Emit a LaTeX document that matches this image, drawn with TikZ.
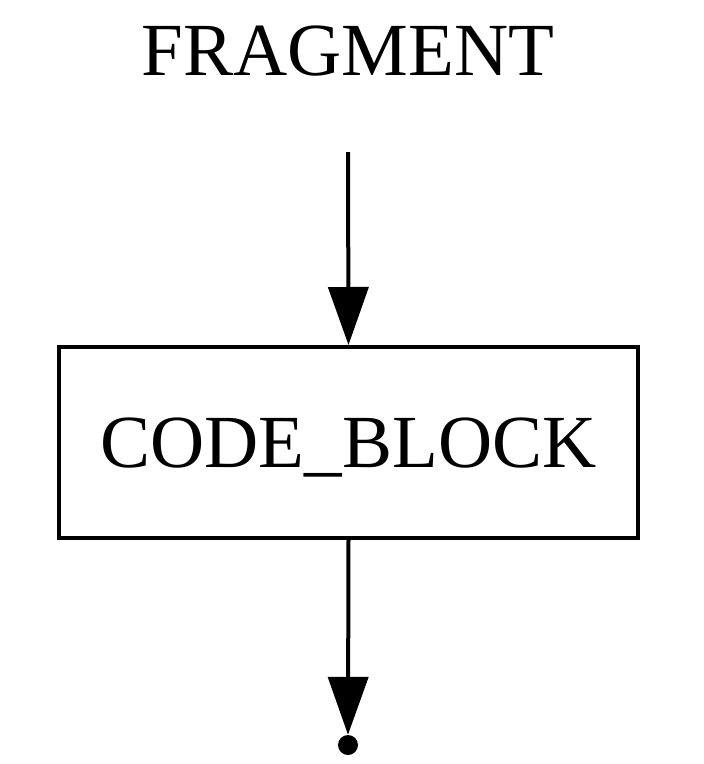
\documentclass[tikz,border=0pt]{standalone}
\usepackage{fontspec}
\setmainfont{Liberation Serif}
\usetikzlibrary{arrows.meta}
\begin{document}
\begin{tikzpicture}[x=1pt,y=-1pt,
  edge/.style={line width=4pt,-{Triangle[length=58pt,width=40pt]}},
  box/.style={draw,line width=4pt,minimum width=579pt,minimum height=191pt,inner sep=0pt,text depth=0pt,font=\fontsize{75}{90}\selectfont},
  lbl/.style={font=\fontsize{75}{90}\selectfont,inner sep=0pt}]
\useasboundingbox (0,0) rectangle (704,764);
\node[lbl] (title) at (348,51) {FRAGMENT};
\coordinate (start) at (348,152);
\node[box] (code) at (348.5,442.5) {CODE\_BLOCK};
\node[circle,fill,inner sep=0pt,minimum size=20pt] (end) at (348,745) {};
\draw[edge] (start) -- (code.north);
\draw[edge] (code.south) -- (end.north);
\end{tikzpicture}
\end{document}
